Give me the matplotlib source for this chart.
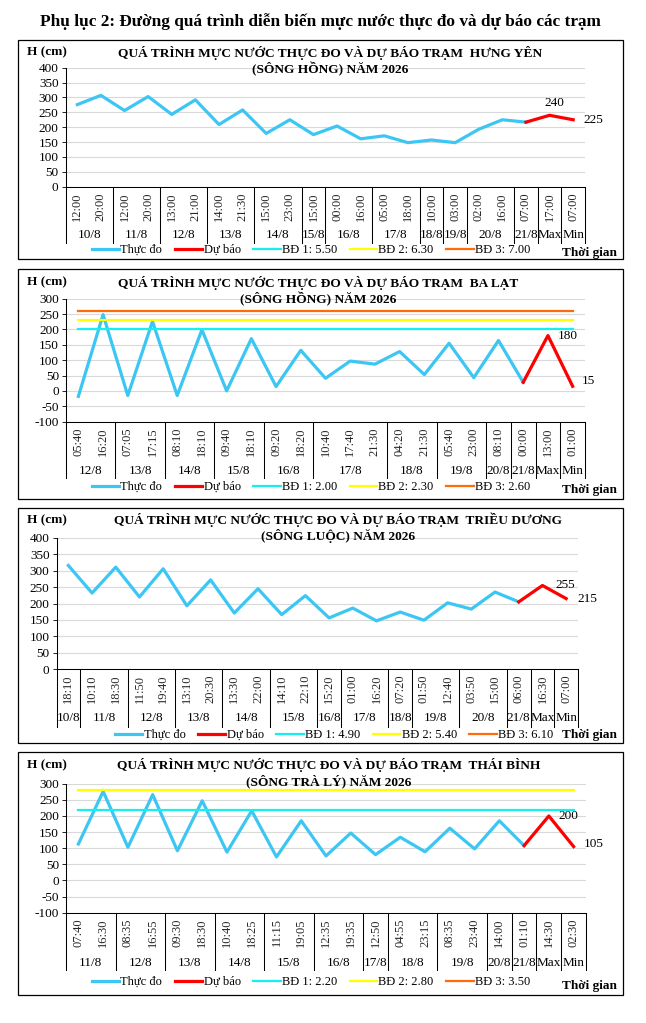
import matplotlib

matplotlib.use("Agg")
import matplotlib.pyplot as plt  # noqa: E402
import numpy as np  # noqa: E402
from matplotlib.patches import Rectangle  # noqa: E402
from matplotlib.transforms import blended_transform_factory  # noqa: E402

SERIF = ["Liberation Serif", "DejaVu Serif"]
plt.rcParams.update({
    "font.family": SERIF,
    "axes.linewidth": 0.75,
    "axes.unicode_minus": False,
})

W, H = 646, 1023

BLUE = "#3CC6F4"
RED = "#FF0000"
BD_COLORS = ["#14F0F0", "#FFFF00", "#FF6A0A"]
LEGEND_NAMES = ["Thực đo", "Dự báo"]

# ---- Hưng Yên ---------------------------------------------------------------
times_hy = ["12:00", "20:00", "12:00", "20:00", "13:00", "21:00", "14:00", "21:30",
            "15:00", "23:00", "15:00", "00:00", "16:00", "05:00", "18:00", "10:00",
            "03:00", "02:00", "16:00", "07:00", "17:00", "07:00"]
dates_hy = ["10/8", "11/8", "12/8", "13/8", "14/8", "15/8", "16/8", "17/8", "18/8",
            "19/8", "20/8", "21/8", "Max", "Min"]
span_hy = [2, 2, 2, 2, 2, 1, 2, 2, 1, 1, 2, 1, 1, 1]
obs_hy = [276, 307, 256, 303, 243, 292, 209, 258, 179, 225, 175, 204, 161, 171,
          148, 157, 148, 193, 225, 217]
fc_hy = [217, 240, 225]
bd_hy = [550, 630, 700]
bd_lbl_hy = ["5.50", "6.30", "7.00"]

# ---- Ba Lạt -----------------------------------------------------------------
times_bl = ["05:40", "16:20", "07:05", "17:15", "08:10", "18:10", "09:40", "18:10",
            "09:20", "18:20", "10:40", "17:40", "21:30", "04:20", "21:30", "05:40",
            "23:00", "08:10", "00:00", "13:00", "01:00"]
dates_bl = ["12/8", "13/8", "14/8", "15/8", "16/8", "17/8", "18/8", "19/8", "20/8",
            "21/8", "Max", "Min"]
span_bl = [2, 2, 2, 2, 2, 3, 2, 2, 1, 1, 1, 1]
obs_bl = [-18, 248, -15, 226, -15, 199, 0, 170, 14, 132, 41, 97, 87, 128, 53, 155,
          43, 164, 28]
fc_bl = [28, 180, 15]
bd_bl = [200, 230, 260]
bd_lbl_bl = ["2.00", "2.30", "2.60"]

# ---- Triều Dương ------------------------------------------------------------
times_td = ["18:10", "10:10", "18:30", "11:50", "19:40", "13:10", "20:30", "13:30",
            "22:00", "14:10", "22:10", "15:20", "01:00", "16:20", "07:20", "01:50",
            "12:40", "03:50", "15:00", "06:00", "16:30", "07:00"]
dates_td = ["10/8", "11/8", "12/8", "13/8", "14/8", "15/8", "16/8", "17/8", "18/8",
            "19/8", "20/8", "21/8", "Max", "Min"]
span_td = [1, 2, 2, 2, 2, 2, 1, 2, 1, 2, 2, 1, 1, 1]
obs_td = [316, 232, 311, 220, 306, 193, 272, 171, 245, 166, 224, 156, 186, 147,
          174, 149, 202, 183, 235, 205]
fc_td = [205, 255, 215]
bd_td = [490, 540, 610]
bd_lbl_td = ["4.90", "5.40", "6.10"]

# ---- Thái Bình --------------------------------------------------------------
times_tb = ["07:40", "16:30", "08:35", "16:55", "09:30", "18:30", "10:40", "18:25",
            "11:15", "19:05", "12:35", "19:35", "12:50", "04:55", "23:15", "08:35",
            "23:40", "14:00", "01:10", "14:30", "02:30"]
dates_tb = ["11/8", "12/8", "13/8", "14/8", "15/8", "16/8", "17/8", "18/8", "19/8",
            "20/8", "21/8", "Max", "Min"]
span_tb = [2, 2, 2, 2, 2, 2, 1, 2, 2, 1, 1, 1, 1]
obs_tb = [113, 276, 103, 266, 92, 247, 88, 216, 73, 185, 76, 147, 80, 134, 89, 162,
          98, 185, 108]
fc_tb = [108, 200, 105]
bd_tb = [220, 280, 350]
bd_lbl_tb = ["2.20", "2.80", "3.50"]

fig = plt.figure(figsize=(W / 100, H / 100), dpi=100)


def fx(x):
    return x / W


def fy(y):
    return 1 - y / H


def panel(title, times, dates, spans, obs, fc, bd, bd_lbl, ylim,
          box, rect, title_y, title_cx, legend_y, legend_cx, tg_y,
          date_off, line_off, ann_max, ann_min):
    # frame round the chart
    bx0, by0, bx1, by1 = box
    fig.add_artist(Rectangle((fx(bx0), fy(by1)), (bx1 - bx0) / W, (by1 - by0) / H,
                             transform=fig.transFigure, fill=False,
                             edgecolor="black", linewidth=0.9))
    l, t, r, b = rect
    ax = fig.add_axes([fx(l), fy(b), (r - l) / W, (b - t) / H])
    hpx = b - t
    n = len(times)
    x = np.arange(n)

    h_obs, = ax.plot(x[:len(obs)], obs, color=BLUE, lw=2.3, zorder=3)
    h_fc, = ax.plot(x[n - len(fc):], fc, color=RED, lw=2.3, zorder=3)
    handles = [h_obs, h_fc]
    labels = list(LEGEND_NAMES)
    for i, (val, col) in enumerate(zip(bd, BD_COLORS)):
        h, = ax.plot(x, [val] * n, color=col, lw=1.6, zorder=4)
        handles.append(h)
        labels.append(f"BĐ {i + 1}: {bd_lbl[i]}")

    ax.set_xlim(-0.5, n - 0.5)
    ax.set_ylim(*ylim)
    ax.set_yticks(np.arange(ylim[0], ylim[1] + 1, 50))
    ax.yaxis.grid(True, color="#D9D9D9", lw=0.8)
    ax.set_axisbelow(True)
    ax.set_xticks(x)
    ax.set_xticklabels(times, rotation=90, fontsize=9, color="#262626")
    ax.tick_params(axis="x", length=0, pad=4)
    ax.tick_params(axis="y", length=3, width=0.6, labelsize=9.5, pad=2)
    for s in ("top", "right"):
        ax.spines[s].set_visible(False)

    # second level of the category axis: dates
    tr = blended_transform_factory(ax.transData, ax.transAxes)
    start = -0.5
    ax.plot([start, start], [0, -line_off / hpx], transform=tr, color="black",
            lw=0.75, clip_on=False)
    for lab, cnt in zip(dates, spans):
        end = start + cnt
        ax.text((start + end) / 2, -date_off / hpx, lab, transform=tr,
                ha="center", va="center", fontsize=9.5)
        ax.plot([end, end], [0, -line_off / hpx], transform=tr, color="black",
                lw=0.75, clip_on=False)
        start = end

    # forecast max / min labels
    (mdx, mdy, mha) = ann_max
    ax.annotate(f"{fc[1]}", (n - 2, fc[1]), xytext=(mdx * 0.72, mdy * 0.72),
                textcoords="offset points", ha=mha, va="center", fontsize=9.5)
    (ndx, ndy) = ann_min
    ax.annotate(f"{fc[2]}", (n - 1, fc[2]), xytext=(ndx * 0.72, ndy * 0.72),
                textcoords="offset points", ha="left", va="center", fontsize=9.5)

    # titles
    fig.text(fx(title_cx), fy(title_y[0]), title[0], ha="center", va="center",
             fontsize=9.6, fontweight="bold")
    fig.text(fx(title_cx), fy(title_y[1]), title[1], ha="center", va="center",
             fontsize=9.6, fontweight="bold")
    fig.text(fx(27), fy(title_y[0]), "H (cm)", ha="left", va="center",
             fontsize=9.5, fontweight="bold")
    fig.text(fx(617), fy(tg_y), "Thời gian", ha="right", va="center",
             fontsize=9.5, fontweight="bold")

    fig.legend(handles, labels, loc="center",
               bbox_to_anchor=(fx(legend_cx), fy(legend_y)),
               bbox_transform=fig.transFigure, ncol=5, frameon=False,
               fontsize=9, handlelength=2.2, handletextpad=0.1,
               columnspacing=1.0, borderpad=0, borderaxespad=0)
    return ax


fig.text(fx(320), fy(22),
         "Phụ lục 2: Đường quá trình diễn biến mực nước thực đo và dự báo các trạm",
         ha="center", va="center", fontsize=12.4, fontweight="bold")

panel(("QUÁ TRÌNH MỰC NƯỚC THỰC ĐO VÀ DỰ BÁO TRẠM  HƯNG YÊN",
       "(SÔNG HỒNG) NĂM 2026"),
      times_hy, dates_hy, span_hy, obs_hy, fc_hy, bd_hy, bd_lbl_hy, (0, 400),
      box=(18, 40, 623, 259), rect=(65.5, 67.7, 585, 186.7),
      title_y=(52.7, 69), title_cx=330, legend_y=250, legend_cx=311, tg_y=252.6,
      date_off=48, line_off=56, ann_max=(5, 12.5, "center"), ann_min=(10, 0))

panel(("QUÁ TRÌNH MỰC NƯỚC THỰC ĐO VÀ DỰ BÁO TRẠM  BA LẠT",
       "(SÔNG HỒNG) NĂM 2026"),
      times_bl, dates_bl, span_bl, obs_bl, fc_bl, bd_bl, bd_lbl_bl, (-100, 300),
      box=(18, 268.7, 623, 499), rect=(66, 298.7, 585, 421.6),
      title_y=(282.7, 298.7), title_cx=318, legend_y=487, legend_cx=311, tg_y=490,
      date_off=49, line_off=56, ann_max=(10, 0, "left"), ann_min=(9, 5))

panel(("QUÁ TRÌNH MỰC NƯỚC THỰC ĐO VÀ DỰ BÁO TRẠM  TRIỀU DƯƠNG",
       "(SÔNG LUỘC) NĂM 2026"),
      times_td, dates_td, span_td, obs_td, fc_td, bd_td, bd_lbl_td, (0, 400),
      box=(18, 508, 623, 743), rect=(56.5, 538, 578, 669),
      title_y=(520, 536), title_cx=338, legend_y=735, legend_cx=334, tg_y=735,
      date_off=49, line_off=58, ann_max=(13, 0, "left"), ann_min=(11, 0))

panel(("QUÁ TRÌNH MỰC NƯỚC THỰC ĐO VÀ DỰ BÁO TRẠM  THÁI BÌNH",
       "(SÔNG TRÀ LÝ) NĂM 2026"),
      times_tb, dates_tb, span_tb, obs_tb, fc_tb, bd_tb, bd_lbl_tb, (-100, 300),
      box=(18, 752, 623, 995), rect=(66, 783.7, 586, 912.7),
      title_y=(765, 781), title_cx=329, legend_y=982, legend_cx=311, tg_y=986,
      date_off=50, line_off=57, ann_max=(10, 0, "left"), ann_min=(10, 3))

fig.savefig("out.png", dpi=100, facecolor="white")
